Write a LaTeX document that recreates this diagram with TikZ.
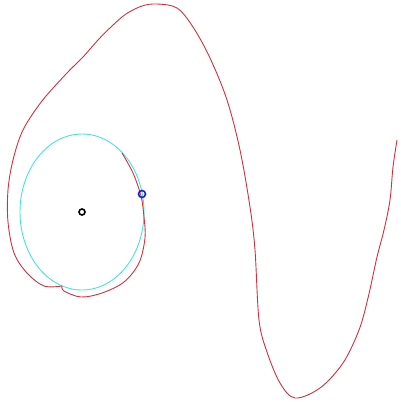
\documentclass[tikz,border=0pt]{standalone}
\usepackage{tikz}
\usetikzlibrary{positioning,calc}
\definecolor{pathred}{RGB}{212,48,60}
\definecolor{ringcyan}{RGB}{70,226,226}
\definecolor{probeblue}{RGB}{20,30,210}

\begin{document}
\begin{tikzpicture}[x=1pt, y=-1pt,
  trail/.style={pathred, line width=0.9pt, line join=round},
  ring/.style={ringcyan, line width=0.9pt},
  pivot/.style={circle, draw=black, line width=1.6pt, inner sep=0pt, minimum size=6pt},
  probe/.style={circle, draw=probeblue, line width=1.6pt, inner sep=0pt, minimum size=7pt}]
% pixel frame of the reference: x to the right, y downwards
\useasboundingbox (0,0) rectangle (400,402);
\draw[ring] (82,212) ellipse [x radius=62, y radius=78];
\draw[trail] plot[smooth, tension=0.55] coordinates {
  (122,153) (133,173) (141,196) (144,217) (145,238) (139,263) (124,282)
  (102,293) (81,297) (64,291) (62,286)};
\draw[trail] plot[smooth, tension=0.55] coordinates {
  (62,286) (44,286) (27,273) (14,253) (8,222) (8,190) (13,160) (23,130)
  (42,101) (67,73) (83,57) (98,40) (112,26) (126,14) (142,6) (157,4)
  (177,8) (193,27) (210,58)
  (227,100) (240,150) (250,207) (255,250) (259,320) (267,352) (280,383)
  (295,398) (320,388) (343,363) (359,330) (368,298) (377,257) (384,230)
  (390,200) (393,167) (397,140)};
\node[pivot] (centre) at (82,212) {};
\node[probe] (marker) at (142,194) {};
\end{tikzpicture}
\end{document}
